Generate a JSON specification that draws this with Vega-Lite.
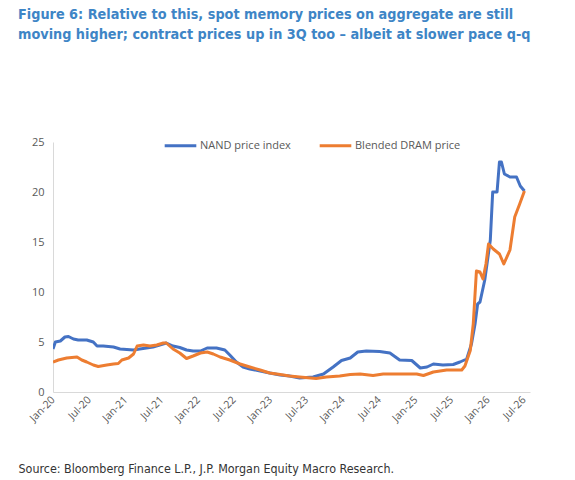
{
  "$schema": "https://vega.github.io/schema/vega-lite/v6.json",
  "width": 477,
  "height": 250,
  "autosize": "none",
  "padding": {"left": 53, "top": 142, "right": 45, "bottom": 88},
  "background": "white",
  "title": {
    "text": ["Figure 6: Relative to this, spot memory prices on aggregate are still", "moving higher; contract prices up in 3Q too – albeit at slower pace q-q"],
    "anchor": "start",
    "frame": "group",
    "dx": -35,
    "offset": 86,
    "font": "'DejaVu Sans Condensed', 'Liberation Sans Narrow', sans-serif",
    "fontSize": 14.3,
    "fontWeight": "bold",
    "color": "#3E85C6",
    "lineHeight": 20
  },
  "datasets": {
    "prices": [
      {"date": "2020-01-01", "series": "NAND price index", "value": 4.3},
      {"date": "2020-01-13", "series": "NAND price index", "value": 5.0},
      {"date": "2020-02-07", "series": "NAND price index", "value": 5.1},
      {"date": "2020-03-01", "series": "NAND price index", "value": 5.5},
      {"date": "2020-03-19", "series": "NAND price index", "value": 5.55},
      {"date": "2020-04-13", "series": "NAND price index", "value": 5.3},
      {"date": "2020-05-07", "series": "NAND price index", "value": 5.2},
      {"date": "2020-06-19", "series": "NAND price index", "value": 5.2},
      {"date": "2020-07-22", "series": "NAND price index", "value": 5.0},
      {"date": "2020-08-10", "series": "NAND price index", "value": 4.6},
      {"date": "2020-09-10", "series": "NAND price index", "value": 4.6},
      {"date": "2020-11-01", "series": "NAND price index", "value": 4.5},
      {"date": "2020-12-04", "series": "NAND price index", "value": 4.3},
      {"date": "2021-01-07", "series": "NAND price index", "value": 4.25},
      {"date": "2021-02-10", "series": "NAND price index", "value": 4.2},
      {"date": "2021-03-13", "series": "NAND price index", "value": 4.3},
      {"date": "2021-04-16", "series": "NAND price index", "value": 4.4},
      {"date": "2021-05-19", "series": "NAND price index", "value": 4.5},
      {"date": "2021-06-22", "series": "NAND price index", "value": 4.7},
      {"date": "2021-07-25", "series": "NAND price index", "value": 4.9},
      {"date": "2021-08-28", "series": "NAND price index", "value": 4.6},
      {"date": "2021-10-01", "series": "NAND price index", "value": 4.45},
      {"date": "2021-11-04", "series": "NAND price index", "value": 4.2},
      {"date": "2021-12-07", "series": "NAND price index", "value": 4.1},
      {"date": "2022-01-13", "series": "NAND price index", "value": 4.1},
      {"date": "2022-02-16", "series": "NAND price index", "value": 4.4},
      {"date": "2022-04-04", "series": "NAND price index", "value": 4.4},
      {"date": "2022-05-16", "series": "NAND price index", "value": 4.2},
      {"date": "2022-06-10", "series": "NAND price index", "value": 3.7},
      {"date": "2022-07-13", "series": "NAND price index", "value": 3.0},
      {"date": "2022-08-16", "series": "NAND price index", "value": 2.5},
      {"date": "2022-09-19", "series": "NAND price index", "value": 2.3},
      {"date": "2022-11-10", "series": "NAND price index", "value": 2.1},
      {"date": "2022-12-28", "series": "NAND price index", "value": 1.9},
      {"date": "2023-02-19", "series": "NAND price index", "value": 1.7},
      {"date": "2023-04-07", "series": "NAND price index", "value": 1.6},
      {"date": "2023-05-28", "series": "NAND price index", "value": 1.4},
      {"date": "2023-08-04", "series": "NAND price index", "value": 1.5},
      {"date": "2023-09-25", "series": "NAND price index", "value": 1.8},
      {"date": "2023-11-13", "series": "NAND price index", "value": 2.5},
      {"date": "2023-12-25", "series": "NAND price index", "value": 3.15},
      {"date": "2024-02-07", "series": "NAND price index", "value": 3.4},
      {"date": "2024-03-16", "series": "NAND price index", "value": 4.0},
      {"date": "2024-04-28", "series": "NAND price index", "value": 4.1},
      {"date": "2024-07-04", "series": "NAND price index", "value": 4.05},
      {"date": "2024-08-25", "series": "NAND price index", "value": 3.9},
      {"date": "2024-10-13", "series": "NAND price index", "value": 3.2},
      {"date": "2024-12-13", "series": "NAND price index", "value": 3.15},
      {"date": "2025-01-25", "series": "NAND price index", "value": 2.4},
      {"date": "2025-02-28", "series": "NAND price index", "value": 2.5},
      {"date": "2025-04-01", "series": "NAND price index", "value": 2.8},
      {"date": "2025-05-19", "series": "NAND price index", "value": 2.7},
      {"date": "2025-07-10", "series": "NAND price index", "value": 2.75},
      {"date": "2025-08-13", "series": "NAND price index", "value": 3.0},
      {"date": "2025-09-16", "series": "NAND price index", "value": 3.3},
      {"date": "2025-10-10", "series": "NAND price index", "value": 4.8},
      {"date": "2025-10-28", "series": "NAND price index", "value": 6.8},
      {"date": "2025-11-10", "series": "NAND price index", "value": 8.8},
      {"date": "2025-11-22", "series": "NAND price index", "value": 9.0},
      {"date": "2025-12-16", "series": "NAND price index", "value": 11.2},
      {"date": "2026-01-13", "series": "NAND price index", "value": 15.2},
      {"date": "2026-01-25", "series": "NAND price index", "value": 20.0},
      {"date": "2026-02-16", "series": "NAND price index", "value": 20.0},
      {"date": "2026-02-28", "series": "NAND price index", "value": 23.0},
      {"date": "2026-03-10", "series": "NAND price index", "value": 23.0},
      {"date": "2026-03-25", "series": "NAND price index", "value": 21.8},
      {"date": "2026-04-22", "series": "NAND price index", "value": 21.5},
      {"date": "2026-05-25", "series": "NAND price index", "value": 21.5},
      {"date": "2026-06-13", "series": "NAND price index", "value": 20.6},
      {"date": "2026-07-04", "series": "NAND price index", "value": 20.1},
      {"date": "2020-01-01", "series": "Blended DRAM price", "value": 3.0},
      {"date": "2020-01-28", "series": "Blended DRAM price", "value": 3.2},
      {"date": "2020-03-10", "series": "Blended DRAM price", "value": 3.4},
      {"date": "2020-05-01", "series": "Blended DRAM price", "value": 3.5},
      {"date": "2020-05-25", "series": "Blended DRAM price", "value": 3.2},
      {"date": "2020-06-19", "series": "Blended DRAM price", "value": 3.0},
      {"date": "2020-07-22", "series": "Blended DRAM price", "value": 2.7},
      {"date": "2020-08-16", "series": "Blended DRAM price", "value": 2.55},
      {"date": "2020-09-28", "series": "Blended DRAM price", "value": 2.7},
      {"date": "2020-11-01", "series": "Blended DRAM price", "value": 2.8},
      {"date": "2020-11-25", "series": "Blended DRAM price", "value": 2.85},
      {"date": "2020-12-13", "series": "Blended DRAM price", "value": 3.2},
      {"date": "2021-01-16", "series": "Blended DRAM price", "value": 3.4},
      {"date": "2021-02-10", "series": "Blended DRAM price", "value": 3.8},
      {"date": "2021-02-28", "series": "Blended DRAM price", "value": 4.6},
      {"date": "2021-04-01", "series": "Blended DRAM price", "value": 4.7},
      {"date": "2021-05-04", "series": "Blended DRAM price", "value": 4.6},
      {"date": "2021-06-07", "series": "Blended DRAM price", "value": 4.7},
      {"date": "2021-07-10", "series": "Blended DRAM price", "value": 4.9},
      {"date": "2021-07-25", "series": "Blended DRAM price", "value": 4.9},
      {"date": "2021-08-28", "series": "Blended DRAM price", "value": 4.3},
      {"date": "2021-10-01", "series": "Blended DRAM price", "value": 3.9},
      {"date": "2021-11-04", "series": "Blended DRAM price", "value": 3.35},
      {"date": "2021-12-07", "series": "Blended DRAM price", "value": 3.6},
      {"date": "2022-01-13", "series": "Blended DRAM price", "value": 3.9},
      {"date": "2022-02-16", "series": "Blended DRAM price", "value": 4.0},
      {"date": "2022-03-19", "series": "Blended DRAM price", "value": 3.8},
      {"date": "2022-04-22", "series": "Blended DRAM price", "value": 3.5},
      {"date": "2022-06-10", "series": "Blended DRAM price", "value": 3.2},
      {"date": "2022-08-01", "series": "Blended DRAM price", "value": 2.8},
      {"date": "2022-09-19", "series": "Blended DRAM price", "value": 2.5},
      {"date": "2022-11-10", "series": "Blended DRAM price", "value": 2.2},
      {"date": "2022-12-28", "series": "Blended DRAM price", "value": 1.9},
      {"date": "2023-02-19", "series": "Blended DRAM price", "value": 1.75},
      {"date": "2023-04-07", "series": "Blended DRAM price", "value": 1.6},
      {"date": "2023-05-28", "series": "Blended DRAM price", "value": 1.5},
      {"date": "2023-08-19", "series": "Blended DRAM price", "value": 1.35},
      {"date": "2023-10-10", "series": "Blended DRAM price", "value": 1.5},
      {"date": "2023-12-16", "series": "Blended DRAM price", "value": 1.6},
      {"date": "2024-02-07", "series": "Blended DRAM price", "value": 1.75},
      {"date": "2024-03-28", "series": "Blended DRAM price", "value": 1.8},
      {"date": "2024-06-01", "series": "Blended DRAM price", "value": 1.65},
      {"date": "2024-07-22", "series": "Blended DRAM price", "value": 1.8},
      {"date": "2024-09-28", "series": "Blended DRAM price", "value": 1.8},
      {"date": "2025-01-07", "series": "Blended DRAM price", "value": 1.8},
      {"date": "2025-02-10", "series": "Blended DRAM price", "value": 1.65},
      {"date": "2025-04-01", "series": "Blended DRAM price", "value": 2.0},
      {"date": "2025-06-07", "series": "Blended DRAM price", "value": 2.2},
      {"date": "2025-08-22", "series": "Blended DRAM price", "value": 2.2},
      {"date": "2025-09-07", "series": "Blended DRAM price", "value": 2.6},
      {"date": "2025-10-04", "series": "Blended DRAM price", "value": 4.15},
      {"date": "2025-10-19", "series": "Blended DRAM price", "value": 6.8},
      {"date": "2025-11-04", "series": "Blended DRAM price", "value": 12.1},
      {"date": "2025-11-22", "series": "Blended DRAM price", "value": 12.0},
      {"date": "2025-12-07", "series": "Blended DRAM price", "value": 11.3},
      {"date": "2025-12-22", "series": "Blended DRAM price", "value": 12.8},
      {"date": "2026-01-04", "series": "Blended DRAM price", "value": 14.8},
      {"date": "2026-01-28", "series": "Blended DRAM price", "value": 14.3},
      {"date": "2026-02-28", "series": "Blended DRAM price", "value": 13.8},
      {"date": "2026-03-22", "series": "Blended DRAM price", "value": 12.8},
      {"date": "2026-04-22", "series": "Blended DRAM price", "value": 14.2},
      {"date": "2026-05-16", "series": "Blended DRAM price", "value": 17.5},
      {"date": "2026-06-10", "series": "Blended DRAM price", "value": 18.8},
      {"date": "2026-07-04", "series": "Blended DRAM price", "value": 20.1}
    ]
  },
  "data": {"name": "prices"},
  "mark": {"type": "line", "strokeWidth": 3, "strokeJoin": "round", "clip": true},
  "encoding": {
    "x": {
      "field": "date",
      "type": "temporal",
      "scale": {"domain": ["2020-01-01", "2026-08-01"]},
      "axis": {
        "values": ["2020-01-01", "2020-07-01", "2021-01-01", "2021-07-01", "2022-01-01", "2022-07-01", "2023-01-01", "2023-07-01", "2024-01-01", "2024-07-01", "2025-01-01", "2025-07-01", "2026-01-01", "2026-07-01"],
        "format": "%b-%y",
        "labelAngle": -45,
        "labelAlign": "right",
        "labelBaseline": "middle",
        "labelPadding": 6,
        "ticks": false,
        "grid": false,
        "domainColor": "#D9D9D9",
        "labelColor": "#595959",
        "labelFont": "Open Sans",
        "labelFontSize": 10.5,
        "title": "Source: Bloomberg Finance L.P., J.P. Morgan Equity Macro Research.",
        "titleAnchor": "start",
        "titleAlign": "left",
        "titleBaseline": "middle",
        "titleX": -35,
        "titleY": 76,
        "titleFont": "'DejaVu Sans Condensed', 'Liberation Sans Narrow', sans-serif",
        "titleFontSize": 12.4,
        "titleFontWeight": "normal",
        "titleColor": "#333333"
      }
    },
    "y": {
      "field": "value",
      "type": "quantitative",
      "scale": {"domain": [0, 25]},
      "axis": {
        "values": [0, 5, 10, 15, 20, 25],
        "grid": false,
        "ticks": false,
        "labelPadding": 9,
        "domainColor": "#D9D9D9",
        "labelColor": "#595959",
        "labelFont": "Open Sans",
        "labelFontSize": 11,
        "title": null
      }
    },
    "color": {
      "field": "series",
      "type": "nominal",
      "sort": ["NAND price index", "Blended DRAM price"],
      "scale": {"domain": ["NAND price index", "Blended DRAM price"], "range": ["#4472C4", "#ED7D31"]},
      "legend": {
        "title": null,
        "orient": "none",
        "legendX": 110,
        "legendY": -14,
        "direction": "horizontal",
        "symbolType": "stroke",
        "symbolSize": 1000,
        "symbolStrokeWidth": 3,
        "labelFont": "Open Sans",
        "labelFontSize": 11,
        "labelColor": "#595959",
        "labelOffset": 2,
        "columnPadding": 22
      }
    }
  },
  "config": {"view": {"stroke": null}}
}
